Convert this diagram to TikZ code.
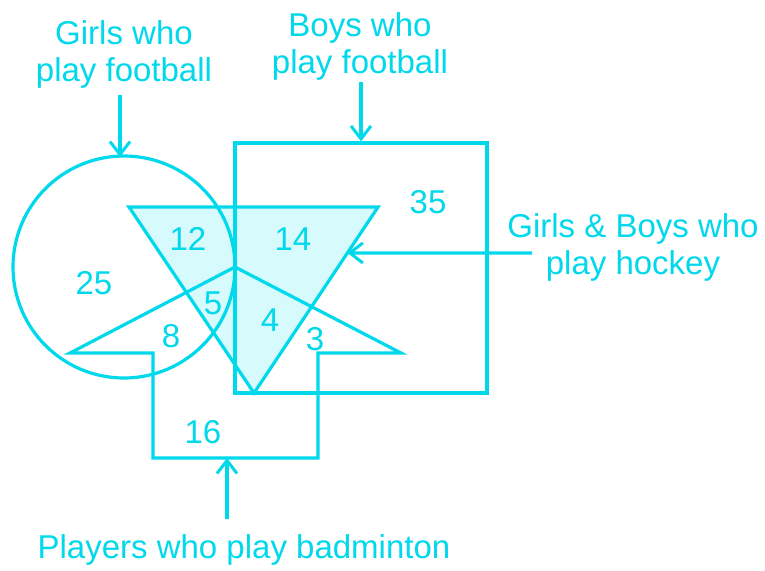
\documentclass[tikz,border=0pt]{standalone}
\usepackage{fontspec}
\setmainfont{Liberation Sans}
\usetikzlibrary{arrows.meta,calc}
\definecolor{cy}{HTML}{00D8EC}
\definecolor{cyfill}{HTML}{D7FAFC}
\begin{document}
\begin{tikzpicture}[x=1pt,y=-1pt,
  shapeline/.style={draw=cy, line width=3.2pt, line join=miter},
  lbl/.style={text=cy, font=\fontsize{33}{37}\selectfont, inner sep=0pt, align=center},
  num/.style={text=cy, font=\fontsize{33}{37}\selectfont, inner sep=0pt},
  ptr/.style={draw=cy, line width=3.2pt, -{Straight Barb[length=13pt,width=20pt,line width=3pt]}}]
\useasboundingbox (0,0) rectangle (765,570);
\fill[white] (0,0) rectangle (765,570);
% hockey triangle
\coordinate (T1) at (129,207);
\coordinate (T2) at (378,207);
\coordinate (T3) at (254,393);
\fill[cyfill] (T1) -- (T2) -- (T3) -- cycle;
% girls football circle
\node[shapeline, circle, inner sep=0pt, minimum size=222pt] (girls) at (124,267) {};
% boys football square
\node[shapeline, rectangle, inner sep=0pt, minimum width=252pt, minimum height=250pt] (boys) at (361,268) {};
\draw[shapeline] (T1) -- (T2) -- (T3) -- cycle;
% badminton shape
\coordinate (B1) at (70,353);
\coordinate (B2) at (235,267);
\coordinate (B3) at (401,353);
\coordinate (B4) at (318,353);
\coordinate (B5) at (318,458);
\coordinate (B6) at (153,458);
\coordinate (B7) at (153,353);
\draw[shapeline] (B1) -- (B2) -- (B3) -- (B4) -- (B5) -- (B6) -- (B7) -- cycle;
% labels
\node[lbl] (lg) at (124,54) {Girls who\\play football};
\node[lbl] (lb) at (360,46) {Boys who\\play football};
\node[lbl] (lh) at (633,247) {Girls \& Boys who\\play hockey};
\node[lbl] (lp) at (244,550) {Players who play badminton};
% numbers
\node[num] (n25) at (94,283) {25};
\node[num] (n12) at (188,239) {12};
\node[num] (n14) at (293,239) {14};
\node[num] (n5) at (213,303) {5};
\node[num] (n8) at (171,336) {8};
\node[num] (n4) at (270,320) {4};
\node[num] (n3) at (315,339) {3};
\node[num] (n35) at (428,202) {35};
\node[num] (n16) at (203,432) {16};
% arrows
\coordinate (ga) at (120,95);
\coordinate (gt) at (120,157);
\draw[ptr] (ga) -- (gt);
\coordinate (ba) at (361,82);
\draw[ptr] (ba) -- (boys.north);
\coordinate (ha) at (532,253);
\coordinate (ht) at ($(T2)!0.247!(T3)$);
\draw[ptr] (ha) -- (ht);
\coordinate (pa) at (227,519);
\coordinate (pt) at (227,458);
\draw[ptr] (pa) -- (pt);
\end{tikzpicture}
\end{document}
